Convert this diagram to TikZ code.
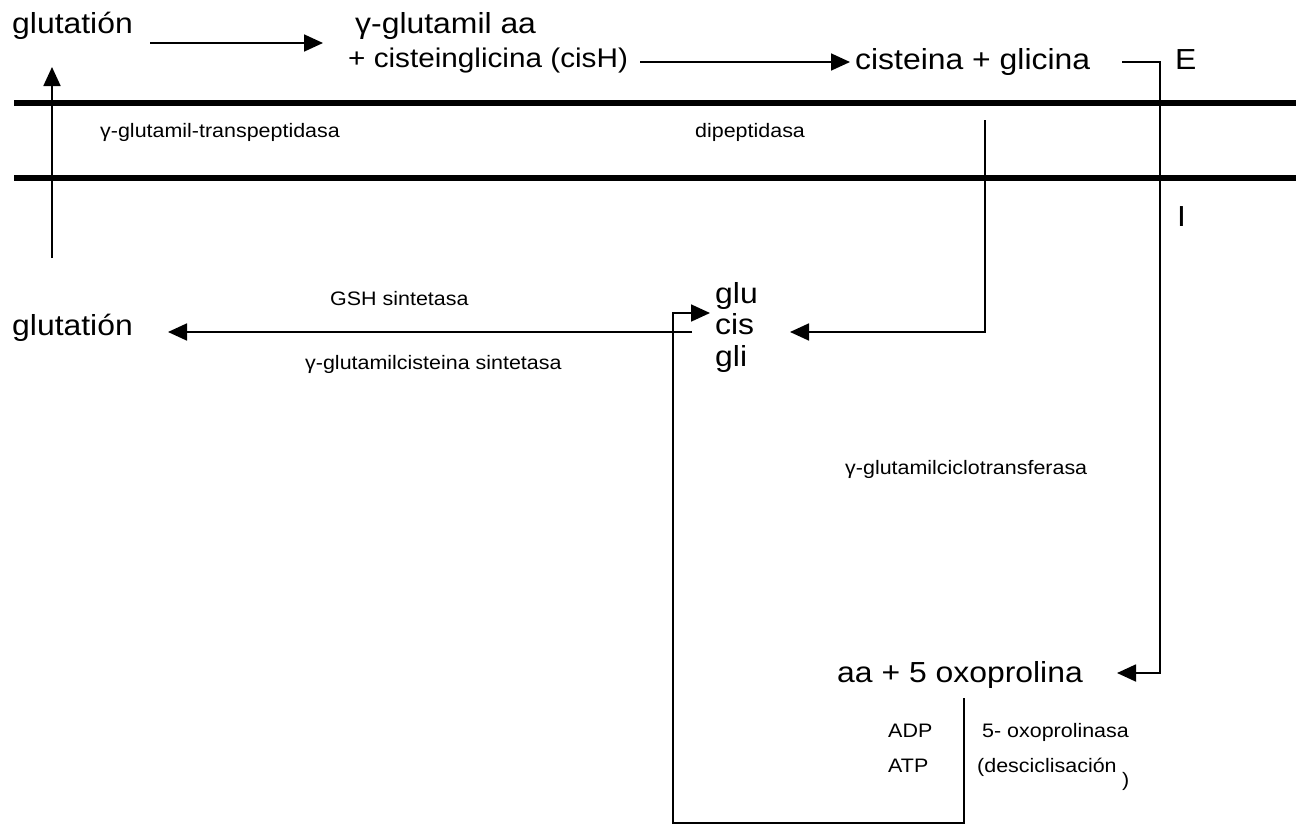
\documentclass[tikz,border=0pt]{standalone}
\usepackage{fontspec}
\setmainfont[FakeStretch=1.1]{Liberation Sans}
\usetikzlibrary{arrows.meta}
\begin{document}
\begin{tikzpicture}[x=1pt,y=-1pt,
  bigtxt/.style={font=\fontsize{29}{34}\selectfont, inner sep=0pt, anchor=base west},
  midtxt/.style={font=\fontsize{27}{32}\selectfont, inner sep=0pt, anchor=base west},
  smalltxt/.style={font=\fontsize{19.5}{23}\selectfont, inner sep=0pt, anchor=base west},
  conn/.style={line width=1.8pt},
  arr/.style={conn, -{Triangle[length=19pt,width=17pt]}},
  membrane/.style={line width=6pt}]
\useasboundingbox (0,0) rectangle (1304,833);

% membranes
\coordinate (m1a) at (14,103); \coordinate (m1b) at (1296,103);
\coordinate (m2a) at (14,178); \coordinate (m2b) at (1296,178);
\draw[membrane] (m1a) -- (m1b);
\draw[membrane] (m2a) -- (m2b);

% texts
\node[bigtxt] (glut1) at (12,33) {glutatión};
\node[bigtxt] (gaa) at (355,33) {γ-glutamil aa};
\node[midtxt] (cisH) at (348,67) {+ cisteinglicina (cisH)};
\node[bigtxt] (cysgly) at (855,69) {cisteina + glicina};
\node[bigtxt] (E) at (1175,69) {E};
\node[bigtxt] (I) at (1177,226) {I};
\node[smalltxt] (ggt) at (100,137) {γ-glutamil-transpeptidasa};
\node[smalltxt] (dip) at (695,137) {dipeptidasa};
\node[bigtxt] (glut2) at (12,335) {glutatión};
\node[smalltxt] (gsh) at (330,305) {GSH sintetasa};
\node[smalltxt] (gcs) at (305,369) {γ-glutamilcisteina sintetasa};
\node[bigtxt] (glu) at (715,303) {glu};
\node[bigtxt] (cis) at (715,334) {cis};
\node[bigtxt] (gli) at (715,366) {gli};
\node[smalltxt] (gcct) at (845,474) {γ-glutamilciclotransferasa};
\node[bigtxt] (oxo) at (837,682) {aa + 5 oxoprolina};
\node[smalltxt] (adp) at (888,737) {ADP};
\node[smalltxt] (atp) at (888,772) {ATP};
\node[smalltxt] (oxoase) at (982,737) {5- oxoprolinasa};
\node[smalltxt] (desc) at (977,772) {(desciclisación};
\node[smalltxt] (paren) at (1122,786) {)};

% connectors
\coordinate (a1s) at (150,43); \coordinate (a1e) at (323,43);
\draw[arr] (a1s) -- (a1e);
\coordinate (vs) at (52,258); \coordinate (ve) at (52,67);
\draw[arr] (vs) -- (ve);
\coordinate (a2s) at (640,62); \coordinate (a2e) at (850,62);
\draw[arr] (a2s) -- (a2e);
\coordinate (e1) at (1122,62); \coordinate (e2) at (1160,62);
\coordinate (e3) at (1160,673); \coordinate (e4) at (1117,673);
\draw[arr] (e1) -- (e2) -- (e3) -- (e4);
\coordinate (d1) at (985,120); \coordinate (d2) at (985,332); \coordinate (d3) at (790,332);
\draw[arr] (d1) -- (d2) -- (d3);
\coordinate (g1) at (692,332); \coordinate (g2) at (168,332);
\draw[arr] (g1) -- (g2);
\coordinate (l1) at (964,698); \coordinate (l2) at (964,823);
\coordinate (l3) at (673,823); \coordinate (l4) at (673,313); \coordinate (l5) at (710,313);
\draw[arr] (l1) -- (l2) -- (l3) -- (l4) -- (l5);
\end{tikzpicture}
\end{document}
